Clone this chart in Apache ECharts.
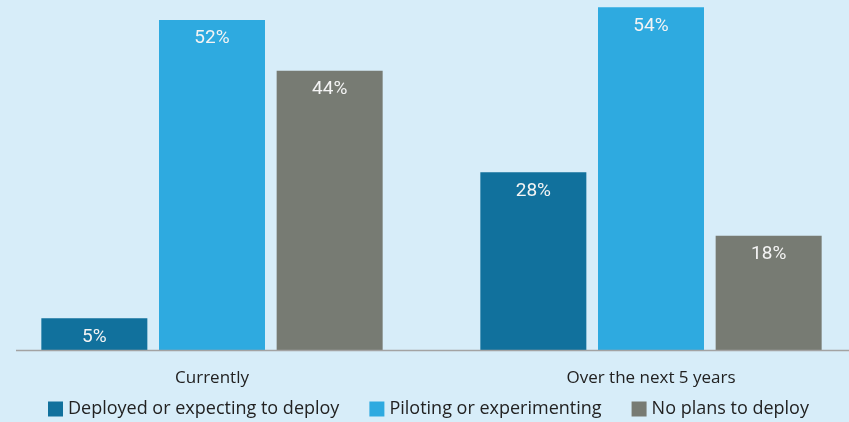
<!DOCTYPE html>
<html>
<head>
<meta charset="utf-8">
<script src="https://cdn.jsdelivr.net/npm/echarts@6/dist/echarts.min.js"></script>
<style>
html,body{margin:0;padding:0;background:#d7edf9;}
#c{width:849px;height:422px;}
</style>
</head>
<body>
<div id="c"></div>
<script>
var categories = ['Currently', 'Over the next 5 years'];
var seriesNames = ['Deployed or expecting to deploy', 'Piloting or experimenting', 'No plans to deploy'];
var deployed = [5, 28];
var piloting = [52, 54];
var noPlans = [44, 18];
var colors = ['#11719d', '#2eaae0', '#777b73'];

var chart = echarts.init(document.getElementById('c'));
function mk(name, data, color) {
  return {
    name: name, type: 'bar', data: data, barWidth: 106, barGap: '11%',
    itemStyle: { color: color },
    label: {
      show: true, position: 'insideTop', distance: 9,
      formatter: '{c}%', color: '#f4f4f4',
      fontFamily: 'Roboto, sans-serif', fontSize: 19
    }
  };
}
chart.setOption({
  backgroundColor: '#d7edf9',
  animation: false,
  grid: { left: -7.5, right: -21.5, top: 0, bottom: 72, outerBoundsMode: 'none', containLabel: false },
  legend: {
    top: 400, left: 48, padding: 0, itemWidth: 15, itemHeight: 15, itemGap: 30,
    icon: 'rect',
    textStyle: { fontFamily: 'Open Sans', fontSize: 18, color: '#222' },
    data: seriesNames
  },
  xAxis: {
    type: 'category', data: categories,
    axisLine: { show: false }, axisTick: { show: false },
    axisLabel: { fontFamily: 'Open Sans', fontSize: 17, color: '#222', margin: 20 }
  },
  yAxis: { type: 'value', min: 0, max: 55.15, show: false, splitLine: { show: false } },
  graphic: [{
    type: 'line', shape: { x1: 16, y1: 350.5, x2: 849, y2: 350.5 },
    style: { stroke: '#a3a3a3', lineWidth: 1.5 }, z: 10
  }],
  series: [mk(seriesNames[0], deployed, colors[0]), mk(seriesNames[1], piloting, colors[1]), mk(seriesNames[2], noPlans, colors[2])]
});
</script>
</body>
</html>
